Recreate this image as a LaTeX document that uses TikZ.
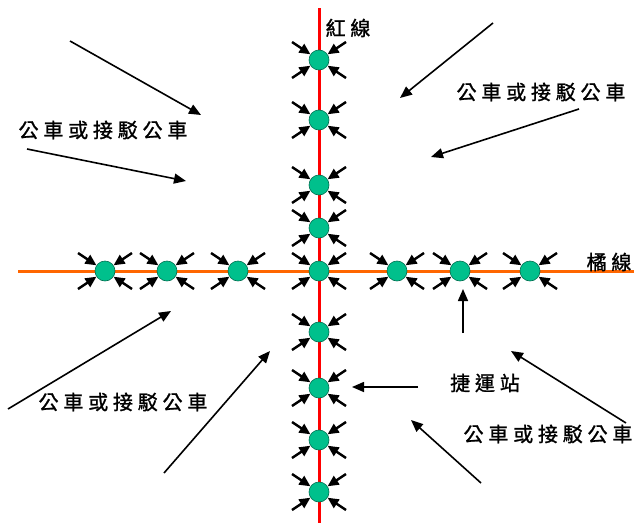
\documentclass[tikz,border=0pt]{standalone}
\usepackage{fontspec}
\newfontfamily\cjk[LetterSpace=24,FakeBold=1.2]{Noto Sans CJK TC}
\usetikzlibrary{arrows.meta,calc}
\definecolor{redline}{RGB}{255,0,0}
\definecolor{orangeline}{RGB}{255,102,0}
\definecolor{stationfill}{RGB}{0,192,140}
\definecolor{stationedge}{RGB}{0,110,80}

\begin{document}
\begin{tikzpicture}[x=1pt,y=-1pt,
  station/.style={circle,fill=stationfill,draw=stationedge,line width=0.6pt,
    minimum size=20pt,inner sep=0pt},
  feeder/.style={line width=2.4pt,-{Triangle[length=11pt,width=10pt]}},
  bus/.style={line width=1.6pt,-{Triangle[length=12pt,width=10pt]}},
  txt/.style={font=\cjk\fontsize{20}{20}\selectfont,inner sep=0pt},
]
\useasboundingbox (0,0) rectangle (640,525);

% the two metro lines
\coordinate (redN) at (319,8);
\coordinate (redS) at (319,523);
\coordinate (orW) at (18,271);
\coordinate (orE) at (634,271);
\draw[redline,line width=3pt] (redN) -- (redS);
\draw[orangeline,line width=3pt] (orW) -- (orE);

% stations
\foreach \n/\y in {v1/60,v2/120,v3/185,v4/228,c/271,v6/332,v7/388,v8/440,v9/492}
  \node[station] (\n) at (319,\y) {};
\foreach \n/\x in {h1/105,h2/167,h3/238,h4/397,h5/460,h6/530}
  \node[station] (\n) at (\x,271) {};

% feeder arrows converging on every station
\foreach \n in {v1,v2,v3,v4,c,v6,v7,v8,v9,h1,h2,h3,h4,h5,h6}
  \foreach \dx/\dy/\k in {-27/-18/a,27/-18/b,-27/18/c,27/18/d}{
    \coordinate (\n\k) at ($(\n)+(\dx,\dy)$);
    \draw[feeder] (\n\k) -- (\n);
  }

% labels
\node[txt] (red) at (348,28) {紅線};
\node[txt] (orange) at (609,262) {橘線};
\node[txt] (mrt) at (485,383) {捷運站};
\node[txt] (busNW) at (103,130) {公車或接駁公車};
\node[txt] (busNE) at (541,92) {公車或接駁公車};
\node[txt] (busSW) at (123,402) {公車或接駁公車};
\node[txt] (busSE) at (548,434) {公車或接駁公車};

% bus and shuttle flows
\coordinate (a1) at (70,41);   \coordinate (b1) at (201,115);
\coordinate (a2) at (27,149);  \coordinate (b2) at (186,181);
\coordinate (a3) at (493,23);  \coordinate (b3) at (400,98);
\coordinate (a4) at (579,109); \coordinate (b4) at (431,157);
\coordinate (a5) at (8,409);   \coordinate (b5) at (171,311);
\coordinate (a6) at (164,473); \coordinate (b6) at (270,351);
\coordinate (a9) at (626,423); \coordinate (b9) at (511,351);
\coordinate (a10) at (481,483);\coordinate (b10) at (411,420);
\foreach \i in {1,2,3,4,5,6,9,10}
  \draw[bus] (a\i) -- (b\i);

% station pointers
\coordinate (a7) at (463,333); \coordinate (b7) at (463,289);
\coordinate (a8) at (418,387); \coordinate (b8) at (352,387);
\draw[bus] (a7) -- (b7);
\draw[bus] (a8) -- (b8);
\end{tikzpicture}
\end{document}
